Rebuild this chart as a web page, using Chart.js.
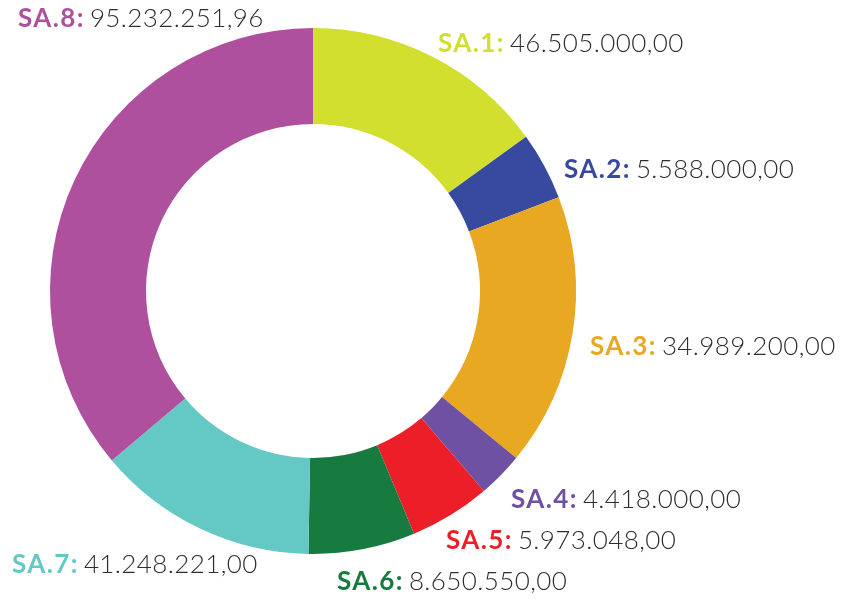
<!DOCTYPE html>
<html>
<head>
<meta charset="utf-8">
<script src="https://cdn.jsdelivr.net/npm/chart.js@4.4.0/dist/chart.umd.min.js"></script>
<style>
    html, body { margin: 0; padding: 0; background: #fff; }
    #wrap { width: 850px; height: 605px; position: relative; }
</style>
</head>
<body>
<div id="wrap"><canvas id="chart"></canvas></div>
<script>
const labels = ['SA.1', 'SA.2', 'SA.3', 'SA.4', 'SA.5', 'SA.6', 'SA.7', 'SA.8'];
// amounts printed next to each slice
const amounts = [46505000, 5588000, 34989200, 4418000, 5973048, 8650550, 41248221, 95232251.96];
// slice sizes as drawn in the original (degrees of the ring, not proportional to amounts)
const sliceDegrees = [54.1, 15.0, 60.3, 10.1, 17.9, 23.6, 48.9, 130.1];
const colors = ['#d2df2f', '#374aa0', '#e9a822', '#6e51a2', '#ec1e27', '#177b40', '#64c8c4', '#ae509e'];

// label anchors relative to the doughnut centre (left edge, baseline)
const labelOffsets = [
    [125, -239], [251, -113], [277, 64], [198, 217],
    [133, 258], [24, 299], [-301, 282], [-295, -264]
];

const fmt = new Intl.NumberFormat('de-DE', { minimumFractionDigits: 2, maximumFractionDigits: 2 });

const outsideLabels = {
    id: 'outsideLabels',
    afterDatasetsDraw(chart) {
        const ctx = chart.ctx;
        const arc = chart.getDatasetMeta(0).data[0];
        const cx = arc.x, cy = arc.y;
        ctx.save();
        ctx.textBaseline = 'alphabetic';
        ctx.textAlign = 'left';
        labels.forEach((lab, i) => {
            let x = cx + labelOffsets[i][0];
            const y = cy + labelOffsets[i][1];
            ctx.font = '700 26px Lato, sans-serif';
            ctx.letterSpacing = '1.4px';
            ctx.fillStyle = colors[i];
            ctx.fillText(lab + ':', x, y);
            x += ctx.measureText(lab + ':').width + 5;
            ctx.font = '300 26px Lato, sans-serif';
            ctx.letterSpacing = '0.4px';
            ctx.fillStyle = '#2e2e2e';
            ctx.fillText(fmt.format(amounts[i]), x, y);
        });
        ctx.restore();
    }
};

new Chart(document.getElementById('chart'), {
    type: 'doughnut',
    data: {
        labels: labels,
        datasets: [{
            data: sliceDegrees,
            backgroundColor: colors,
            borderWidth: 0
        }]
    },
    options: {
        responsive: true,
        maintainAspectRatio: false,
        animation: false,
        cutout: '63.5%',
        layout: { padding: { left: 50, right: 274, top: 28, bottom: 51 } },
        plugins: {
            legend: { display: false },
            tooltip: { enabled: false }
        }
    },
    plugins: [outsideLabels]
});
</script>
</body>
</html>
